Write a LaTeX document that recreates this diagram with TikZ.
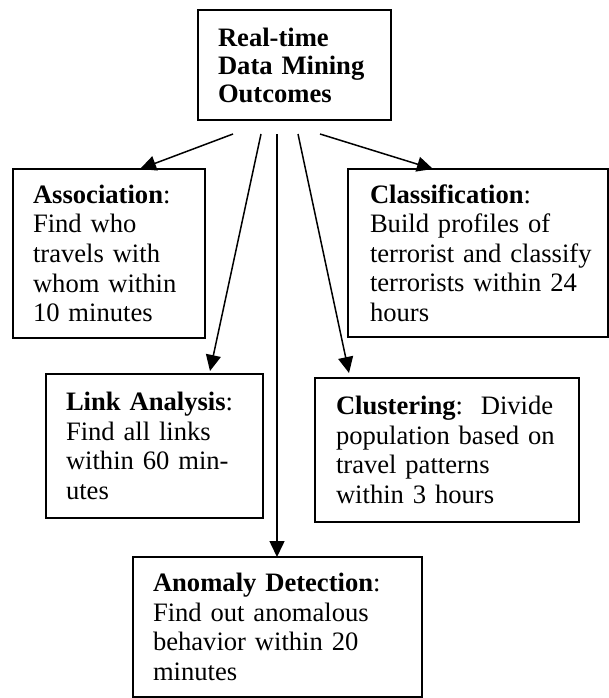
\documentclass[tikz,border=0pt]{standalone}
\usepackage{fontspec}
\setmainfont{Liberation Serif}
\usetikzlibrary{arrows.meta,calc}

\tikzset{
  box/.style={draw, line width=1.5pt, anchor=north west, outer sep=0pt,
    inner xsep=20pt, inner ysep=0pt, align=left,
    font=\fontsize{26.6pt}{29.6pt}\selectfont},
  link/.style={line width=1.5pt, -{Triangle[length=16pt,width=15pt]}}
}

\begin{document}
\begin{tikzpicture}[x=1pt,y=-1pt]
  \useasboundingbox (0,0) rectangle (609,698);

  % Root box
  \node[box, minimum width=193pt, minimum height=110pt, text width=153pt,
        inner xsep=20pt, font=\fontsize{26.6pt}{28pt}\selectfont\bfseries]
        (root) at (198,10) {Real-time\\Data Mining\\Outcomes};

  % Outcome boxes
  \node[box, minimum width=192pt, minimum height=169pt, text width=152pt]
        (assoc) at (13,169)
        {\textbf{Association}:\\Find who\\travels with\\whom within\\10 minutes};
  \node[box, minimum width=260pt, minimum height=168pt, text width=216pt,
        inner xsep=22pt]
        (class) at (348,169)
        {\textbf{Classification}:\\Build profiles of\\\mbox{terrorist and classify}\\terrorists within 24\\hours};
  \node[box, minimum width=217pt, minimum height=144pt, text width=177pt]
        (linkan) at (46,374)
        {\textbf{Link Analysis}:\\Find all links\\within 60 min-\\utes};
  \node[box, minimum width=264pt, minimum height=144pt, text width=222pt,
        inner xsep=21pt]
        (clust) at (315,378)
        {\textbf{Clustering}:\ \ Divide\\population based on\\travel patterns\\within 3 hours};
  \node[box, minimum width=289pt, minimum height=140pt, text width=249pt]
        (anom) at (133,557)
        {\textbf{Anomaly Detection}:\\Find out anomalous\\behavior within 20\\minutes};

  % Arrow origins just below the root box
  \coordinate (sA) at ($(root.south west)+(35,14)$);
  \coordinate (sL) at ($(root.south west)+(63,14)$);
  \coordinate (sN) at ($(root.south west)+(79,14)$);
  \coordinate (sU) at ($(root.south west)+(100,14)$);
  \coordinate (sC) at ($(root.south west)+(122,14)$);

  % Connectors
  \draw[link] (sA) -- ($(assoc.north west)+(127,0)$);
  \draw[link] (sC) -- ($(class.north west)+(85,0)$);
  \draw[link] (sL) -- ($(linkan.north west)+(164,-3)$);
  \draw[link] (sU) -- ($(clust.north west)+(34,-5)$);
  \draw[link] (sN) -- ($(anom.north west)+(144,0)$);
\end{tikzpicture}
\end{document}
